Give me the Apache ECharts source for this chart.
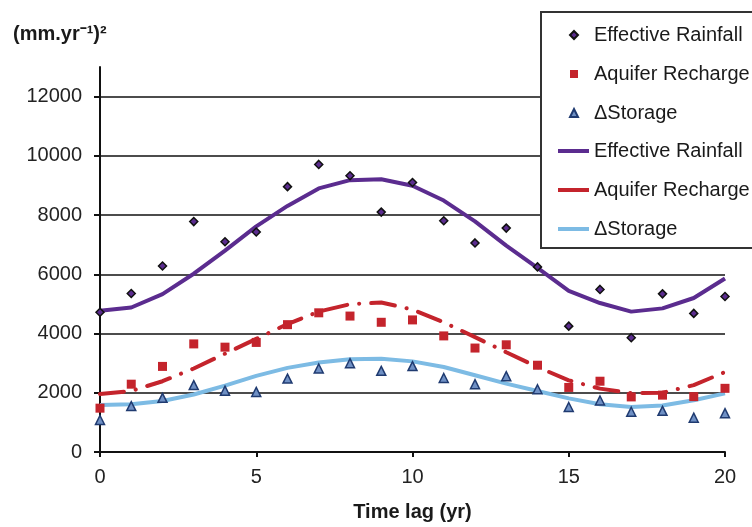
<!DOCTYPE html>
<html>
<head>
<meta charset="utf-8">
<script src="https://cdn.jsdelivr.net/npm/echarts@6/dist/echarts.min.js"></script>
<style>html,body{margin:0;padding:0;background:#fff}#c{width:752px;height:527px}</style>
</head>
<body>
<div id="c"></div>
<script>
const timeLag = [0,1,2,3,4,5,6,7,8,9,10,11,12,13,14,15,16,17,18,19,20];
const rainfallObs = [4720,5350,6280,7780,7100,7430,8960,9710,9330,8100,9100,7810,7060,7560,6250,4250,5490,3860,5340,4680,5250];
const rechargeObs = [1480,2290,2890,3650,3540,3700,4300,4700,4590,4380,4460,3920,3510,3620,2930,2180,2390,1860,1920,1870,2150];
const storageObs  = [1080,1550,1830,2260,2070,2030,2480,2820,3000,2740,2900,2500,2290,2560,2120,1520,1740,1360,1390,1160,1310];
const rainfallFit = [4770,4880,5330,6020,6800,7620,8310,8900,9180,9210,8990,8490,7790,6970,6220,5440,5030,4740,4850,5200,5860];
const rechargeFit = [1960,2060,2390,2820,3320,3820,4320,4740,4990,5050,4810,4380,3880,3370,2870,2420,2140,1990,2000,2260,2700];
const storageFit  = [1590,1610,1720,1940,2240,2570,2840,3020,3130,3150,3060,2870,2590,2310,2060,1810,1610,1520,1570,1750,1980];
const yTicks = [0,2000,4000,6000,8000,10000,12000];
const xTicks = [0,5,10,15,20];
const labels = {er:'Effective Rainfall', ar:'Aquifer Recharge', ds:'\u0394Storage'};

const pairs = (arr) => timeLag.map((x,i) => [x, arr[i]]);
const font = 'Liberation Sans, Arial, sans-serif';
const chart = echarts.init(document.getElementById('c'));
chart.setOption({
  animation: false,
  textStyle: {fontFamily: font},
  title: {
    text: '(mm.yr\u207B\u00B9)\u00B2', left: 8, top: 19,
    textStyle: {fontSize: 20, fontWeight: 'bold', color: '#1a1a1a', fontFamily: font}
  },
  grid: {left: 100, right: 27, top: 67, bottom: 73},
  xAxis: {
    type: 'value', min: xTicks[0], max: xTicks[xTicks.length-1], interval: 5,
    name: 'Time lag (yr)', nameLocation: 'middle', nameGap: 50,
    nameTextStyle: {fontSize: 20, fontWeight: 'bold', color: '#1a1a1a', fontFamily: font},
    axisLine: {lineStyle: {color: '#111', width: 2}},
    axisTick: {show: true, inside: false, length: 5, lineStyle: {color: '#111', width: 2}},
    axisLabel: {fontSize: 20, color: '#222', margin: 15, fontFamily: font},
    splitLine: {show: false}
  },
  yAxis: {
    type: 'value', min: 0, max: 13000, interval: 2000,
    axisLine: {show: true, lineStyle: {color: '#111', width: 2}},
    axisTick: {show: true, length: 6, lineStyle: {color: '#111', width: 2}},
    axisLabel: {fontSize: 20, color: '#222', margin: 18, fontFamily: font, showMaxLabel: false,
      formatter: v => yTicks.indexOf(v) >= 0 ? String(v) : ''},
    splitLine: {show: true, showMaxLine: false, lineStyle: {color: '#111', width: 1.5}}
  },
  graphic: [{
    type: 'rect', z: 10, shape: {x: 541, y: 12, width: 230, height: 236},
    style: {fill: '#fff', stroke: '#333', lineWidth: 2}
  }],
  legend: [{
    z: 20, orient: 'vertical', left: 564, top: 20, itemGap: 19,
    itemWidth: 8, itemHeight: 8,
    data: [labels.er, labels.ar, labels.ds],
    textStyle: {fontSize: 20, color: '#1a1a1a', padding: [0,0,0,11], fontFamily: font}
  }, {
    z: 20, orient: 'vertical', left: 553, top: 136, itemGap: 19,
    itemWidth: 31, itemHeight: 4, icon: 'rect',
    data: [labels.er + ' fit', labels.ar + ' fit', labels.ds + ' fit'],
    formatter: n => n.replace(' fit', ''),
    textStyle: {fontSize: 20, color: '#1a1a1a', fontFamily: font}
  }],
  series: [
    {name: labels.er + ' fit', type: 'line', data: pairs(rainfallFit), symbol: 'none', z: 2,
      lineStyle: {color: '#5b2c8f', width: 4}, itemStyle: {color: '#5b2c8f'}},
    {name: labels.ar + ' fit', type: 'line', data: pairs(rechargeFit), symbol: 'none', z: 2,
      lineStyle: {color: '#c4242c', width: 4, type: [24, 12, 0.1, 12], cap: 'round'}, itemStyle: {color: '#c4242c'}},
    {name: labels.ds + ' fit', type: 'line', data: pairs(storageFit), symbol: 'none', z: 2,
      lineStyle: {color: '#7dbbe4', width: 4}, itemStyle: {color: '#7dbbe4'}},
    {name: labels.er, type: 'scatter', data: pairs(rainfallObs), symbol: 'diamond', symbolSize: 8, z: 5,
      itemStyle: {color: '#5b2c8f', borderColor: '#111', borderWidth: 1.5, opacity: 1}},
    {name: labels.ar, type: 'scatter', data: pairs(rechargeObs), symbol: 'rect', symbolSize: 9, z: 5,
      itemStyle: {color: '#c4242c', opacity: 1}},
    {name: labels.ds, type: 'scatter', data: pairs(storageObs), symbol: 'triangle', symbolSize: 9, z: 5,
      itemStyle: {color: '#6f90c4', borderColor: '#1f3a70', borderWidth: 1.5, opacity: 1}}
  ]
});
</script>
</body>
</html>
